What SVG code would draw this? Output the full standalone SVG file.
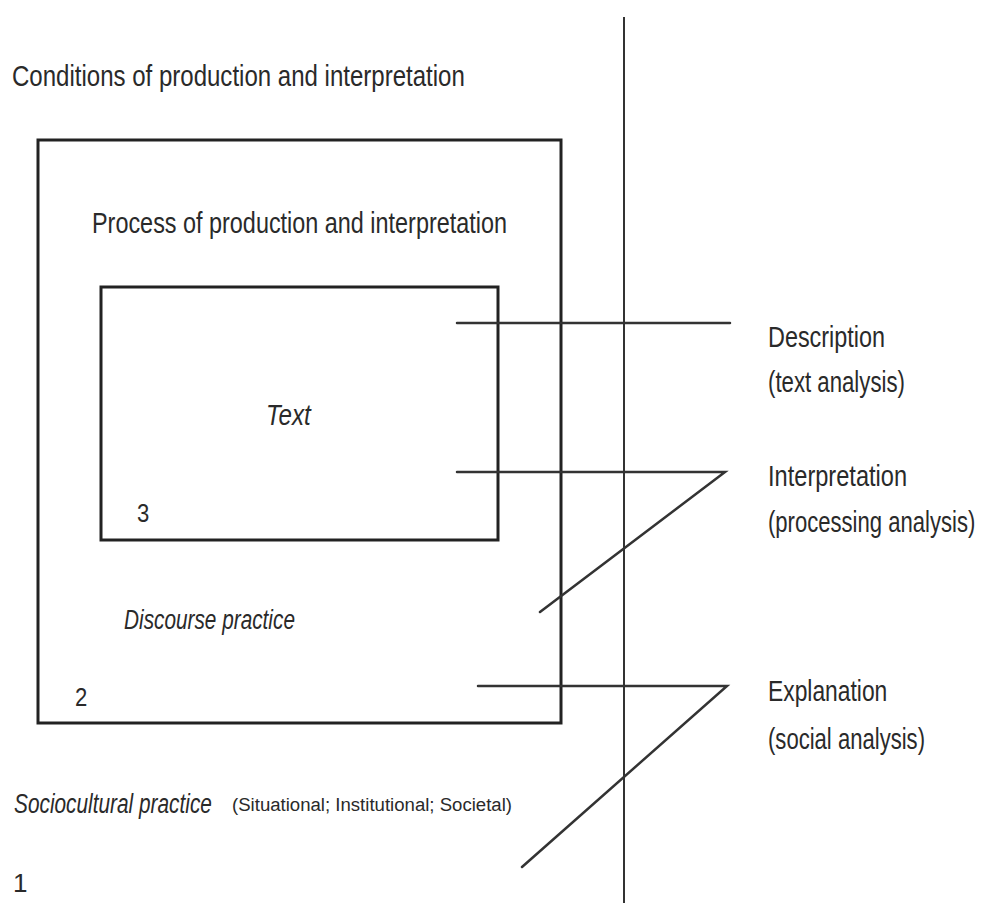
<svg xmlns="http://www.w3.org/2000/svg" width="985" height="903" viewBox="0 0 985 903">
<style>
  text { font-family: "Liberation Sans", "DejaVu Sans", sans-serif; fill: #2a2a2a; }
  .h { font-size: 30px; }
  .it { font-style: italic; }
  .box { fill: none; stroke: #222; stroke-width: 3; }
  .conn { fill: none; stroke: #333; stroke-width: 2.5; stroke-linecap: round; }
  .axis { fill: none; stroke: #333; stroke-width: 2; }
</style>
<rect width="985" height="903" fill="#ffffff"/>
<g id="conditions">
  <text class="h" transform="translate(12,86) scale(0.8,1)" textLength="566" lengthAdjust="spacingAndGlyphs">Conditions of production and interpretation</text>
</g>
<g id="sociocultural">
  <text class="it" transform="translate(14,813) scale(0.77,1)" font-size="27" textLength="257" lengthAdjust="spacingAndGlyphs">Sociocultural practice</text>
  <text x="232" y="811" font-size="18" textLength="280" lengthAdjust="spacingAndGlyphs">(Situational; Institutional; Societal)</text>
  <text x="13" y="892" font-size="26">1</text>
</g>
<g id="discourse">
  <rect class="box" x="38" y="140" width="523" height="583"/>
  <text class="h" transform="translate(92,233) scale(0.78,1)" textLength="532" lengthAdjust="spacingAndGlyphs">Process of production and interpretation</text>
  <text class="it" transform="translate(124,629) scale(0.77,1)" font-size="27" textLength="222" lengthAdjust="spacingAndGlyphs">Discourse practice</text>
  <text transform="translate(75,706) scale(0.85,1)" font-size="26">2</text>
</g>
<g id="text-box">
  <rect class="box" x="101" y="287" width="397" height="253"/>
  <text class="it" transform="translate(266,425) scale(0.8,1)" font-size="29" textLength="56" lengthAdjust="spacingAndGlyphs">Text</text>
  <text transform="translate(137,522) scale(0.85,1)" font-size="26">3</text>
</g>
<g id="description">
  <text class="h" transform="translate(768,347) scale(0.78,1)" textLength="150" lengthAdjust="spacingAndGlyphs">Description</text>
  <text class="h" transform="translate(768,392) scale(0.74,1)" textLength="185" lengthAdjust="spacingAndGlyphs">(text analysis)</text>
</g>
<g id="interpretation">
  <text class="h" transform="translate(768,486) scale(0.786,1)" textLength="177" lengthAdjust="spacingAndGlyphs">Interpretation</text>
  <text class="h" transform="translate(768,532) scale(0.735,1)" textLength="282" lengthAdjust="spacingAndGlyphs">(processing analysis)</text>
</g>
<g id="explanation">
  <text class="h" transform="translate(768,701) scale(0.76,1)" textLength="157" lengthAdjust="spacingAndGlyphs">Explanation</text>
  <text class="h" transform="translate(768,749) scale(0.737,1)" textLength="213" lengthAdjust="spacingAndGlyphs">(social analysis)</text>
</g>
<g id="connectors">
  <line class="axis" x1="624" y1="17" x2="624" y2="903"/>
  <line class="conn" x1="457" y1="323" x2="730" y2="323"/>
  <polyline class="conn" points="457,472 725,472 540,612"/>
  <polyline class="conn" points="478,686 727,686 522,867"/>
</g>
</svg>
